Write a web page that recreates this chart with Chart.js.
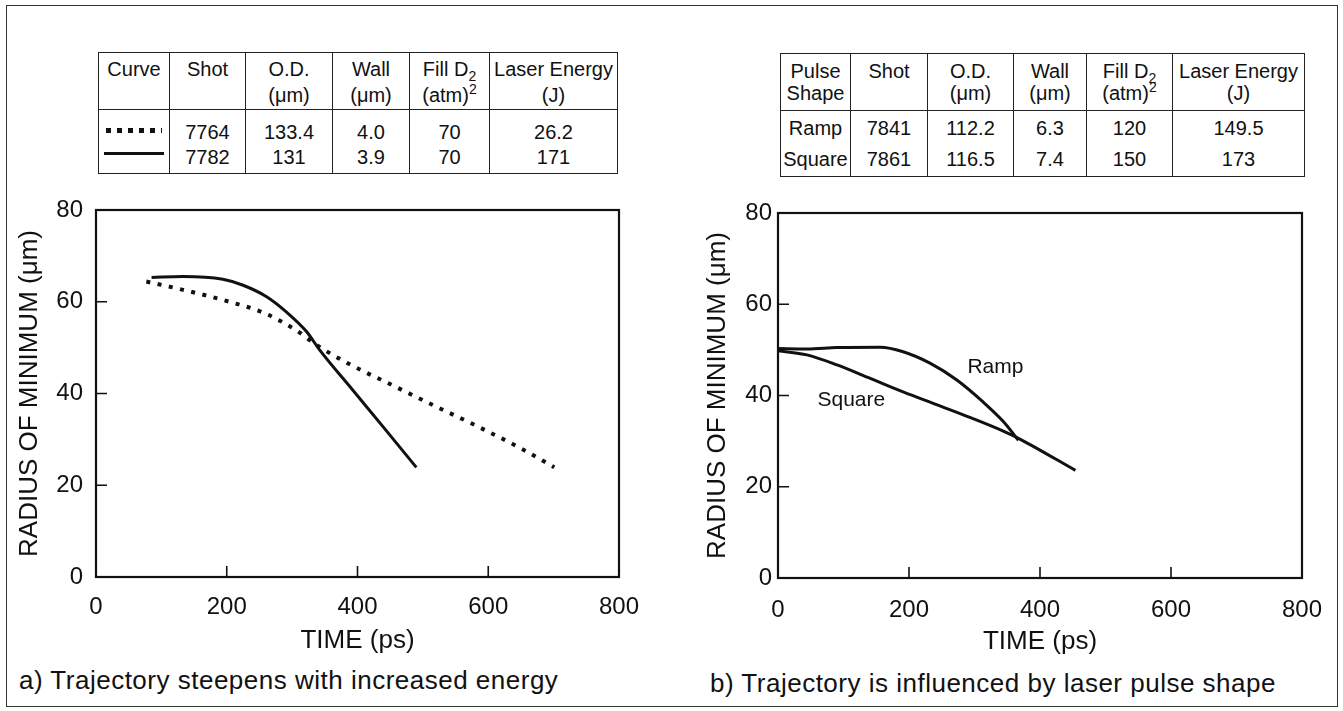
<!DOCTYPE html>
<html>
<head>
<meta charset="utf-8">
<script src="https://cdn.jsdelivr.net/npm/chart.js@4.4.1/dist/chart.umd.min.js"></script>
<style>
  body { margin: 0; background: #fff; font-family: "Liberation Sans", Arial, sans-serif; color: #111; }
  #page { position: relative; width: 1343px; height: 711px; overflow: hidden; }
  #frame { position: absolute; left: 6px; top: 5px; width: 1332px; height: 702px; border: 1.5px solid #333; box-sizing: border-box; }
  table.info { position: absolute; border-collapse: collapse; table-layout: fixed; font-size: 20px; text-align: center; }
  table.info td { border: 1.5px solid #222; vertical-align: top; padding: 0; white-space: nowrap; overflow: visible; }
  table.info sub, table.info sup { font-size: 14px; line-height: 0; }
  #tblA { left: 98px; top: 52px; width: 519px; }
  #tblA tr.head td { height: 53px; padding-top: 3px; line-height: 26px; }
  #tblA tr.body td { height: 53px; padding-top: 10px; line-height: 25px; }
  #tblB { left: 780px; top: 53px; width: 524px; }
  #tblB tr.head td { height: 50px; padding-top: 6px; line-height: 22px; }
  #tblB tr.body td { height: 63px; padding-top: 2px; line-height: 31px; }
  .dots { display: block; margin: 8px auto 0; width: 56px; height: 5px;
          background: repeating-linear-gradient(90deg, #111 0 5px, transparent 5px 11px); }
  .solid { display: block; margin: 19px auto 0; width: 60px; height: 3px; background: #111; }
  canvas { position: absolute; }
  .caption { position: absolute; font-size: 26px; letter-spacing: 0.5px; white-space: nowrap; line-height: 30px; }
</style>
</head>
<body>
<div id="page">
  <div id="frame"></div>

  <table class="info" id="tblA">
    <colgroup><col style="width:71px"><col style="width:76px"><col style="width:87px"><col style="width:77px"><col style="width:80px"><col style="width:128px"></colgroup>
    <tr class="head"><td>Curve</td><td>Shot</td><td>O.D.<br>(μm)</td><td>Wall<br>(μm)</td><td>Fill D<sub>2</sub><br>(atm)<sup>2</sup></td><td>Laser Energy<br>(J)</td></tr>
    <tr class="body"><td><span class="dots"></span><span class="solid"></span></td><td>7764<br>7782</td><td>133.4<br>131</td><td>4.0<br>3.9</td><td>70<br>70</td><td>26.2<br>171</td></tr>
  </table>

  <table class="info" id="tblB">
    <colgroup><col style="width:70px"><col style="width:77px"><col style="width:86px"><col style="width:73px"><col style="width:86px"><col style="width:132px"></colgroup>
    <tr class="head"><td>Pulse<br>Shape</td><td>Shot</td><td>O.D.<br>(μm)</td><td>Wall<br>(μm)</td><td>Fill D<sub>2</sub><br>(atm)<sup>2</sup></td><td>Laser Energy<br>(J)</td></tr>
    <tr class="body"><td>Ramp<br>Square</td><td>7841<br>7861</td><td>112.2<br>116.5</td><td>6.3<br>7.4</td><td>120<br>150</td><td>149.5<br>173</td></tr>
  </table>

  <canvas id="chartA" width="670" height="480" style="left:0px; top:180px;"></canvas>
  <canvas id="chartB" width="673" height="480" style="left:670px; top:180px;"></canvas>

  <div class="caption" style="left:19px; top:665px;">a) Trajectory steepens with increased energy</div>
  <div class="caption" style="left:710px; top:668px;">b) Trajectory is influenced by laser pulse shape</div>
</div>

<script>
// axis ticks
var timeTicks = [0, 200, 400, 600, 800];
var radiusTicks = [0, 20, 40, 60, 80];

// a) shot 7764 (dotted, 26.2 J)
var shot7764Time = [77, 133, 204, 258, 306, 337, 385, 452, 518, 587, 653, 701];
var shot7764Radius = [64.4, 62.6, 60.0, 57.5, 53.8, 50.6, 46.6, 41.9, 37.3, 32.6, 27.8, 23.9];

// a) shot 7782 (solid, 171 J)
var shot7782Time = [85, 133, 194, 225, 261, 291, 322, 342, 393, 444, 490];
var shot7782Radius = [65.3, 65.5, 64.9, 63.6, 61.1, 57.8, 53.5, 49.5, 40.7, 31.9, 23.9];

// b) ramp pulse, shot 7841
var rampTime = [0, 44, 90, 156, 191, 232, 273, 313, 344, 367];
var rampRadius = [50.3, 50.2, 50.5, 50.6, 49.6, 47.1, 43.4, 38.6, 34.3, 30.2];

// b) square pulse, shot 7861
var squareTime = [0, 44, 90, 140, 191, 242, 293, 344, 370, 454];
var squareRadius = [49.8, 48.9, 46.7, 43.8, 40.8, 38.0, 35.2, 32.2, 30.4, 23.6];

// curve names written on plot b
var curveNames = ['Ramp', 'Square'];
var curveNameTime = [332, 112];
var curveNameRadius = [46.2, 38.9];

var ink = '#111';
var fam = '"Liberation Sans", Arial, sans-serif';

function pts(xs, ys) {
  return xs.map(function (t, i) { return { x: t, y: ys[i] }; });
}

var frameAndTicks = {
  id: 'frameAndTicks',
  afterDatasetsDraw: function (chart) {
    var ctx = chart.ctx;
    var a = chart.chartArea;
    var x = chart.scales.x, y = chart.scales.y;
    ctx.save();
    ctx.strokeStyle = ink;
    ctx.lineWidth = 2.2;
    ctx.strokeRect(a.left, a.top, a.right - a.left, a.bottom - a.top);
    ctx.beginPath();
    timeTicks.slice(1, -1).forEach(function (v) {
      var px = x.getPixelForValue(v);
      ctx.moveTo(px, a.bottom);
      ctx.lineTo(px, a.bottom - 11);
    });
    radiusTicks.slice(1, -1).forEach(function (v) {
      var py = y.getPixelForValue(v);
      ctx.moveTo(a.left, py);
      ctx.lineTo(a.left + 11, py);
    });
    ctx.lineWidth = 1.6;
    ctx.stroke();
    ctx.restore();
  }
};

var curveLabels = {
  id: 'curveLabels',
  afterDatasetsDraw: function (chart) {
    if (chart.canvas.id !== 'chartB') return;
    var ctx = chart.ctx;
    ctx.save();
    ctx.fillStyle = ink;
    ctx.font = '21px ' + fam;
    ctx.textAlign = 'center';
    ctx.textBaseline = 'middle';
    curveNames.forEach(function (name, i) {
      ctx.fillText(name, chart.scales.x.getPixelForValue(curveNameTime[i]), chart.scales.y.getPixelForValue(curveNameRadius[i]));
    });
    ctx.restore();
  }
};

function makeOptions(o) {
  return {
    responsive: false,
    animation: false,
    layout: { padding: { left: 0, top: o.top, right: o.right, bottom: 0 } },
    plugins: { legend: { display: false }, tooltip: { enabled: false } },
    elements: { point: { radius: 0 } },
    scales: {
      x: {
        type: 'linear', min: 0, max: 800,
        afterBuildTicks: function (s) { s.ticks = timeTicks.map(function (v) { return { value: v }; }); },
        ticks: { padding: o.xPad, color: ink, font: { family: fam, size: 24 } },
        grid: { display: false, drawTicks: false },
        border: { display: false },
        title: { display: true, text: 'TIME (ps)', color: ink, font: { family: fam, size: 26 }, padding: { top: 0, bottom: o.xTitlePad } },
        afterFit: function (s) { s.height = o.xHeight; }
      },
      y: {
        type: 'linear', min: 0, max: 80,
        afterBuildTicks: function (s) { s.ticks = radiusTicks.map(function (v) { return { value: v }; }); },
        ticks: { padding: o.yPad, color: ink, font: { family: fam, size: 24 } },
        grid: { display: false, drawTicks: false },
        border: { display: false },
        title: { display: true, text: 'RADIUS OF MINIMUM (μm)', color: ink, font: { family: fam, size: 26 }, padding: { top: o.yTitlePad, bottom: 0 } },
        afterFit: function (s) { s.width = o.yWidth; }
      }
    }
  };
}

new Chart('chartA', {
  type: 'line',
  data: {
    datasets: [
      {
        label: '7764',
        data: pts(shot7764Time, shot7764Radius),
        borderColor: ink,
        borderWidth: 4,
        borderDash: [4, 7.5],
        borderCapStyle: 'butt',
        cubicInterpolationMode: 'monotone',
        fill: false
      },
      {
        label: '7782',
        data: pts(shot7782Time, shot7782Radius),
        borderColor: ink,
        borderWidth: 3,
        cubicInterpolationMode: 'monotone',
        fill: false
      }
    ]
  },
  options: makeOptions({ top: 30, right: 51, xHeight: 83, yWidth: 96, xPad: 16, yPad: 13, xTitlePad: 4, yTitlePad: 14 }),
  plugins: [frameAndTicks]
});

new Chart('chartB', {
  type: 'line',
  data: {
    datasets: [
      {
        label: 'Ramp',
        data: pts(rampTime, rampRadius),
        borderColor: ink,
        borderWidth: 3,
        cubicInterpolationMode: 'monotone',
        fill: false
      },
      {
        label: 'Square',
        data: pts(squareTime, squareRadius),
        borderColor: ink,
        borderWidth: 3,
        cubicInterpolationMode: 'monotone',
        fill: false
      }
    ]
  },
  options: makeOptions({ top: 33, right: 41, xHeight: 82, yWidth: 108, xPad: 18, yPad: 6, xTitlePad: 3, yTitlePad: 32 }),
  plugins: [frameAndTicks, curveLabels]
});
</script>
</body>
</html>
